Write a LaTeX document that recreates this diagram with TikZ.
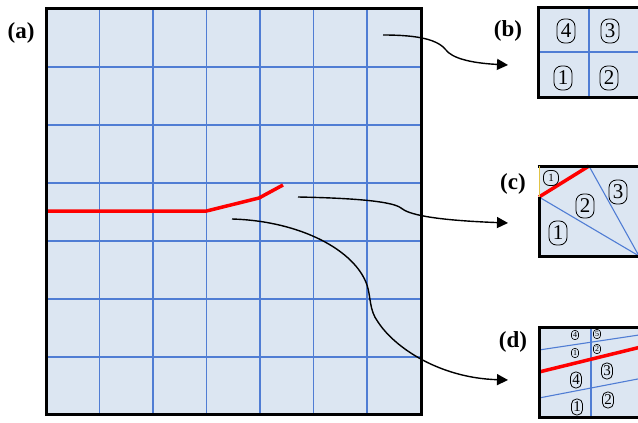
\documentclass[tikz,border=0pt]{standalone}
\usepackage{fontspec}
\setmainfont{Liberation Serif}
\usetikzlibrary{arrows.meta}
\definecolor{cellfill}{RGB}{220,230,242}
\definecolor{gridblue}{RGB}{80,125,212}
\definecolor{edgeyellow}{RGB}{226,196,70}
\begin{document}
\begin{tikzpicture}[x=1pt,y=-1pt,
  frame/.style={line width=3pt, black},
  gridl/.style={gridblue, line width=1.1pt},
  cut/.style={red, line width=3.5pt},
  conn/.style={line width=1.4pt, -{Triangle[length=11pt,width=11pt]}},
  lab/.style={font=\fontsize{23}{23}\selectfont\bfseries, inner sep=0pt},
  numbase/.style={draw, line width=0.8pt, inner sep=0pt},
  numL/.style={numbase, rounded corners=7.5pt, minimum width=18pt, minimum height=24pt, font=\fontsize{21}{21}\selectfont},
  numM/.style={numbase, rounded corners=5pt, minimum width=11pt, minimum height=16pt, font=\fontsize{15}{15}\selectfont},
  numS/.style={numbase, line width=0.6pt, rounded corners=3pt, minimum width=7pt, minimum height=9pt, font=\fontsize{8}{8}\selectfont},
  numT/.style={numbase, rounded corners=6pt, minimum width=15pt, minimum height=15pt, font=\fontsize{11}{11}\selectfont}]
\useasboundingbox (0,0) rectangle (638,423);
\begin{scope}
\clip (0,0) rectangle (638,423);
% ---------- panel (a)
\fill[cellfill] (46,8) rectangle (421,414);
\foreach \x in {99.5,153,206.5,260,313.5,367} \draw[gridl] (\x,8) -- (\x,414);
\foreach \y in {67,125,183,241,299,357} \draw[gridl] (46,\y) -- (421,\y);
\draw[cut] (46,211) -- (206.5,211) -- (259,198) -- (283,185);
\draw[frame] (46,8) rectangle (421,414);
\node[lab] (la) at (21,33) {(a)};
% ---------- panel (b)
\fill[cellfill] (538,7) rectangle (640,97);
\draw[gridl] (589,7) -- (589,97);
\draw[gridl] (538,52) -- (640,52);
\draw[frame] (538,7) rectangle (640,97);
\node[lab] (lb) at (508,31) {(b)};
\node[numL] (b4) at (566,31) {4};
\node[numL] (b3) at (610,31) {3};
\node[numL] (b1) at (563,78) {1};
\node[numL] (b2) at (609,78) {2};
% ---------- panel (c)
\fill[cellfill] (539,166) rectangle (641,256);
\draw[gridl] (539,197) -- (639,256);
\draw[gridl] (589,166) -- (639,256);
\draw[cut] (539,197) -- (589,166);
\draw[frame] (539,197) -- (539,256) -- (642,256);
\draw[frame] (537.5,166) -- (642,166);
\draw[edgeyellow, line width=0.8pt] (539,166) -- (539,197);
\node[lab] (lc) at (513,184) {(c)};
\node[numT] (c1s) at (551,178) {1};
\node[numL] (c2) at (585,206) {2};
\node[numL] (c3) at (618,192) {3};
\node[numL] (c1) at (558,233) {1};
% ---------- panel (d)
\fill[cellfill] (539,327) rectangle (643,417);
\draw[gridl] (591,327) -- (591,417);
\draw[gridl] (539,350) -- (643,334.4);
\draw[gridl] (539,398) -- (643,378);
\draw[cut] (539,372) -- (643,346.5);
\draw[frame] (539,327) rectangle (643,417);
\node[lab] (ld) at (513,342) {(d)};
\node[numS] (d4s) at (575,335) {4};
\node[numS] (d5s) at (597,334) {5};
\node[numS] (d1s) at (575,353) {1};
\node[numS] (d2s) at (597,349) {2};
\node[numM] (d4) at (576,380) {4};
\node[numM] (d3) at (607,371) {3};
\node[numM] (d1) at (577,407) {1};
\node[numM] (d2) at (608,400) {2};
% ---------- connectors
\coordinate (bsrc) at (383,35);
\coordinate (btip) at (508,65);
\coordinate (csrc) at (298,197);
\coordinate (ctip) at (508,223);
\coordinate (dsrc) at (232,219);
\coordinate (dtip) at (508,380);
\draw[conn] (bsrc) .. controls (420,35) and (438,40) .. (446,50)
  .. controls (452,58) and (470,63) .. (btip);
\draw[conn] (csrc) .. controls (350,198) and (392,201) .. (401,208)
  .. controls (408,214) and (430,220) .. (ctip);
\draw[conn] (dsrc) .. controls (300,221) and (355,250) .. (367,285)
  .. controls (371,297) and (369,310) .. (378,322)
  .. controls (395,348) and (440,378) .. (dtip);
\end{scope}
\end{tikzpicture}
\end{document}
